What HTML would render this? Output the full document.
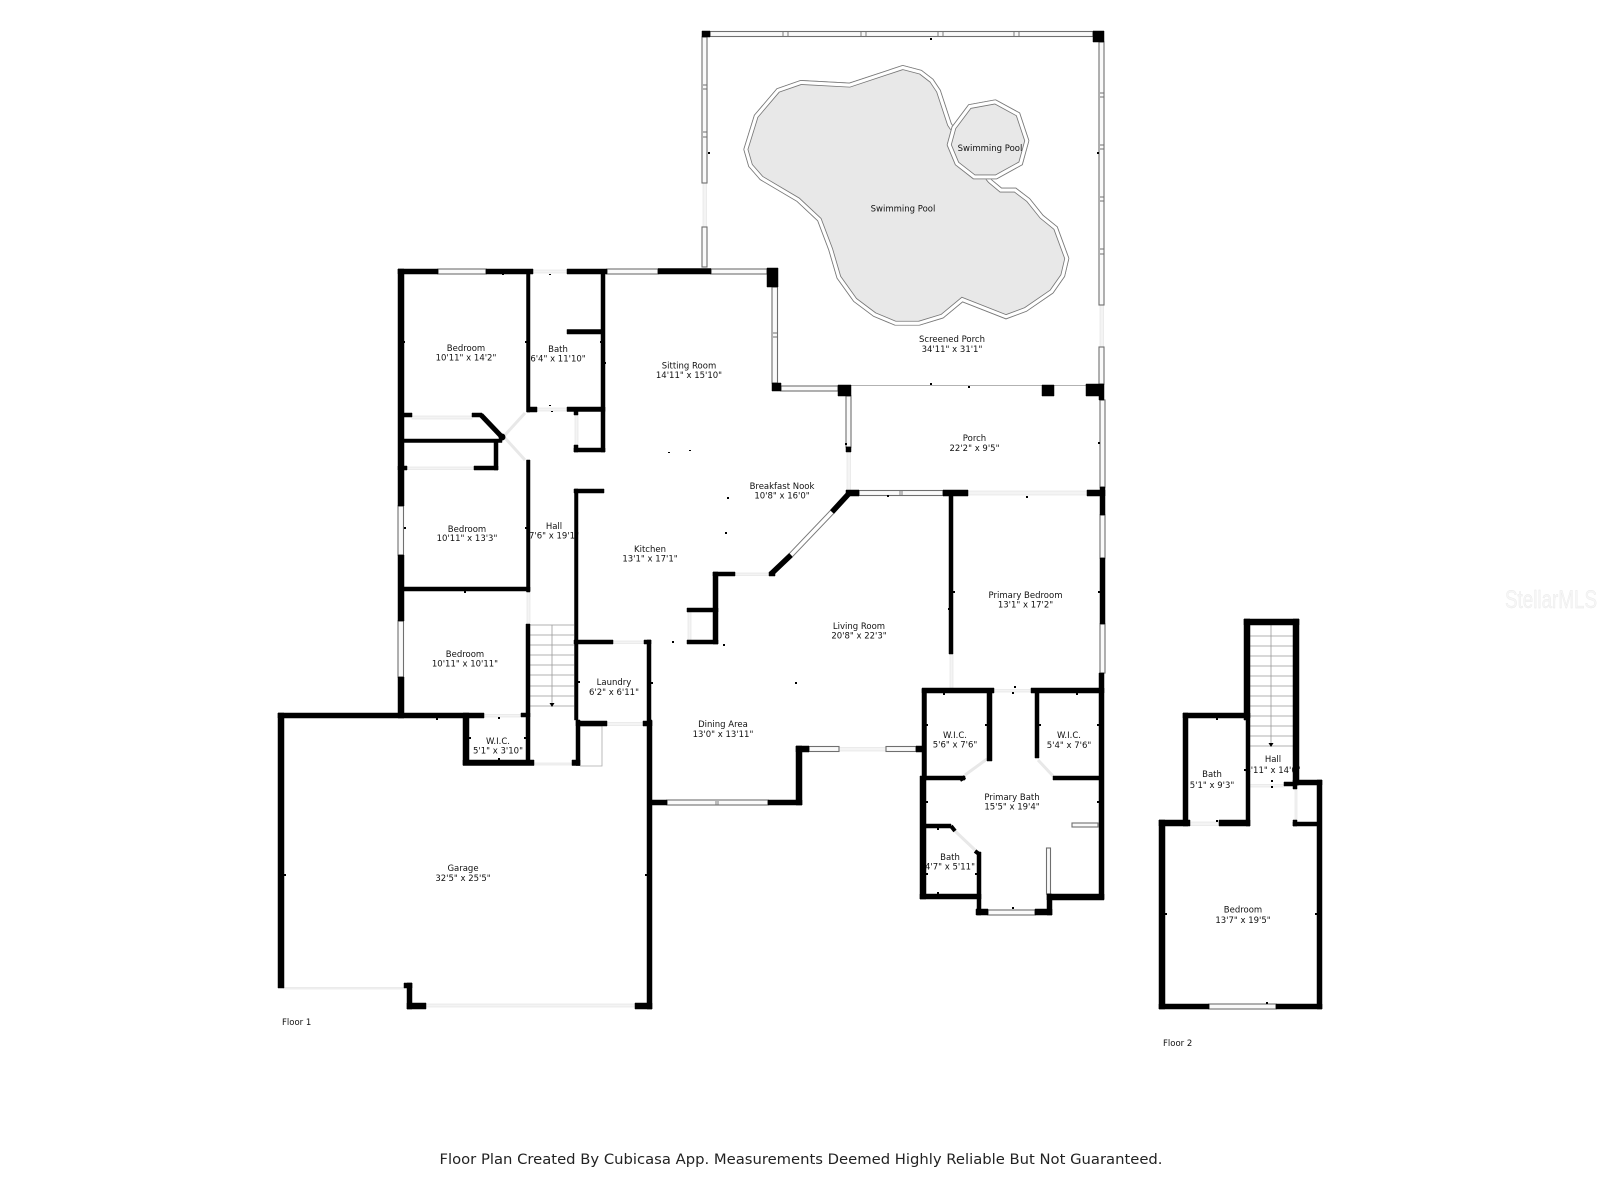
<!DOCTYPE html>
<html><head><meta charset="utf-8"><title>Floor Plan</title>
<style>
html,body{margin:0;padding:0;background:#fff}
svg{display:block}
text{font-family:"DejaVu Sans","Liberation Sans",sans-serif;font-size:8.5px;fill:#111;text-anchor:middle}
.win{fill:#fafafa;stroke:#6f6f6f;stroke-width:1.1}
.door{fill:#f4f4f4;stroke:#e2e2e2;stroke-width:.6}
.fl{text-anchor:start}
</style></head><body>
<svg width="1600" height="1200" viewBox="0 0 1600 1200" xmlns="http://www.w3.org/2000/svg">
<rect width="1600" height="1200" fill="#fff"/>
<defs>
<clipPath id="c1"><polygon id="p1" points="668,165 725,180 760,207 782,240 815,340 880,440 935,508 965,533 1008,533 1050,565 1090,615 1133,650 1168,745 1155,800 1120,850 1040,905 978,928 848,877 790,925 718,947 645,947 580,920 520,875 470,805 445,720 412,633 350,575 240,510 205,470 190,418 222,315 290,235 362,210 508,218"/></clipPath>
<clipPath id="c2"><polygon id="p2" points="865,283 947,268 1020,308 1048,392 1028,465 950,508 880,508 825,465 800,405 815,350"/></clipPath>
</defs>
<g transform="translate(680 10) scale(.33333)">
<g clip-path="url(#c1)">
<use href="#p1" fill="#e8e8e8" stroke="#777" stroke-width="29"/>
<use href="#p1" fill="none" stroke="#fff" stroke-width="24"/>
<use href="#p1" fill="none" stroke="#777" stroke-width="5"/>
</g>
<g clip-path="url(#c2)">
<use href="#p2" fill="#e8e8e8" stroke="#777" stroke-width="29"/>
<use href="#p2" fill="none" stroke="#fff" stroke-width="24"/>
<use href="#p2" fill="none" stroke="#777" stroke-width="5"/>
</g>
</g>

<!-- labels -->
<text x="903" y="211.500">Swimming Pool</text>
<text x="990" y="151">Swimming Pool</text>
<text x="952" y="342">Screened Porch</text><text x="952" y="352">34'11" x 31'1"</text>
<text x="466" y="351">Bedroom</text><text x="466" y="360.500">10'11" x 14'2"</text>
<text x="558" y="352">Bath</text><text x="558" y="361.500">6'4" x 11'10"</text>
<text x="689" y="368.500">Sitting Room</text><text x="689" y="378">14'11" x 15'10"</text>
<text x="974.500" y="441">Porch</text><text x="974.500" y="451">22'2" x 9'5"</text>
<text x="467" y="532">Bedroom</text><text x="467" y="541">10'11" x 13'3"</text>
<text x="554" y="529">Hall</text><text x="554" y="538.500">7'6" x 19'1"</text>
<text x="782" y="489">Breakfast Nook</text><text x="782" y="498.500">10'8" x 16'0"</text>
<text x="650" y="552">Kitchen</text><text x="650" y="561.500">13'1" x 17'1"</text>
<text x="1025.500" y="598">Primary Bedroom</text><text x="1025.500" y="607.500">13'1" x 17'2"</text>
<text x="859" y="629">Living Room</text><text x="859" y="638.500">20'8" x 22'3"</text>
<text x="465" y="657">Bedroom</text><text x="465" y="666.500">10'11" x 10'11"</text>
<text x="614" y="685">Laundry</text><text x="614" y="695">6'2" x 6'11"</text>
<text x="723" y="727">Dining Area</text><text x="723" y="737">13'0" x 13'11"</text>
<text x="498" y="744">W.I.C.</text><text x="498" y="753.500">5'1" x 3'10"</text>
<text x="955" y="738">W.I.C.</text><text x="955" y="747.500">5'6" x 7'6"</text>
<text x="1069" y="738">W.I.C.</text><text x="1069" y="748">5'4" x 7'6"</text>
<text x="1012" y="800">Primary Bath</text><text x="1012" y="809.500">15'5" x 19'4"</text>
<text x="950" y="860">Bath</text><text x="950" y="869.500">4'7" x 5'11"</text>
<text x="463" y="871">Garage</text><text x="463" y="881">32'5" x 25'5"</text>
<text x="1273" y="762">Hall</text><text x="1273" y="773">4'11" x 14'0"</text>
<text x="1212" y="777">Bath</text><text x="1212" y="788">5'1" x 9'3"</text>
<text x="1243" y="912.500">Bedroom</text><text x="1243" y="923">13'7" x 19'5"</text>
<text class="fl" x="282" y="1025">Floor 1</text>
<text class="fl" x="1163" y="1046">Floor 2</text>
<text x="801" y="1164" style="font-size:14px;fill:#222" textLength="723" lengthAdjust="spacingAndGlyphs">Floor Plan Created By Cubicasa App. Measurements Deemed Highly Reliable But Not Guaranteed.</text>
<text x="1551" y="608" style="font-family:'Liberation Sans',sans-serif;font-size:25px;fill:#f6f6f6;stroke:#e8e8e8;stroke-width:.4" textLength="92" lengthAdjust="spacingAndGlyphs">StellarMLS</text>

<!-- stairs -->
<g stroke="#999" stroke-width=".8" fill="none">
<path d="M530 625H574M530 635H574M530 645H574M530 655H574M530 665H574M530 675H574M530 686H574M530 696H574M530 706H574M552 625V703"/>
<path d="M1250 636H1293M1250 646H1293M1250 656H1293M1250 666H1293M1250 676H1293M1250 686H1293M1250 696H1293M1250 706H1293M1250 716H1293M1250 726H1293M1250 736H1293M1250 746H1293M1271 625V743"/>
<path d="M580 726H602V766H580" stroke="#aaa"/>
<path d="M851 385.500H1086" stroke="#999"/>
</g>
<path d="M549.500 703H554.500L552 707ZM1268.500 743H1273.500L1271 747Z" fill="#000"/>

<!-- doors -->
<g class="door">
<rect x="533" y="270" width="34" height="3"/><rect x="537" y="408" width="30" height="3"/><rect x="575" y="415" width="3" height="30"/>
<rect x="412" y="416" width="60" height="3"/><rect x="407" y="467" width="67" height="2.500"/>
<rect x="527" y="592" width="3" height="31"/><rect x="613" y="641" width="31" height="2.500"/><rect x="607" y="722.500" width="36" height="3"/>
<rect x="484" y="714.500" width="37" height="2.500"/><rect x="534" y="763" width="38" height="2"/><rect x="284" y="987.500" width="120" height="1.500"/>
<rect x="426" y="1004" width="209" height="3"/><rect x="839" y="747.500" width="47" height="3.500"/><rect x="994" y="689.500" width="37" height="2.500"/>
<rect x="968" y="491" width="119" height="4"/><rect x="847" y="452" width="3.500" height="38"/><rect x="950" y="654" width="3" height="34"/>
<rect x="703" y="183" width="3.500" height="44"/><rect x="1100" y="305" width="3.500" height="42"/><rect x="688" y="612" width="3" height="28"/>
<rect x="1190" y="822" width="29" height="3.500"/><rect x="1250" y="784.500" width="34" height="2.500"/><rect x="1295" y="789" width="2" height="31"/>
<rect x="735" y="573" width="36" height="2.500"/>
</g>
<g stroke="#e8e8e8" stroke-width="3" fill="none">
<path d="M505 435L525 413M505 438L525 460M965 775L987 759M1038 760L1053 776M955 831L975 850"/>
</g>

<!-- windows -->
<g class="win">
<rect x="710" y="31.500" width="383" height="5"/><rect x="702" y="37" width="5" height="146"/><rect x="702" y="227" width="5" height="40"/>
<rect x="1099" y="42" width="5" height="263"/><rect x="1099" y="347" width="5" height="37"/>
<rect x="772" y="287" width="5.500" height="96"/><rect x="781" y="386" width="57" height="5"/><rect x="846" y="396" width="5" height="51"/>
<rect x="859" y="490.500" width="84" height="5"/><rect x="1100" y="400" width="5" height="87"/><rect x="1100" y="515" width="5" height="43"/><rect x="1100" y="624" width="5" height="49"/>
<rect x="438" y="269" width="48" height="5"/><rect x="607" y="269" width="51" height="5"/><rect x="711" y="269" width="56" height="5"/>
<rect x="398" y="506" width="5.500" height="49"/><rect x="398" y="621" width="5.500" height="56"/>
<rect x="667" y="800" width="101" height="5"/><rect x="809" y="746.500" width="30" height="5"/><rect x="886" y="746.500" width="30" height="5"/>
<rect x="988" y="910" width="47" height="5"/><rect x="1209" y="1004" width="67" height="5"/>
<rect x="1046.500" y="848" width="4" height="46"/><rect x="1072" y="823" width="26" height="4"/>
</g>
<path d="M783 32V36M788 32V36M861 32V36M866 32V36M938 32V36M943 32V36M1014 32V36M1019 32V36M703 85H707M703 89H707M703 132H707M703 137H707M1100 93H1104M1100 97H1104M1100 145H1104M1100 149H1104M1100 197H1104M1100 201H1104M1100 249H1104M1100 254H1104M773 333H777M773 337H777M900 491V495M902 491V495M716 801V805M718 801V805" stroke="#6f6f6f" stroke-width=".9" fill="none"/>
<path d="M832 512L791 555" stroke="#777" stroke-width="5.500" fill="none"/>
<path d="M832 512L791 555" stroke="#fff" stroke-width="3.500" fill="none"/>

<!-- walls -->
<path fill="#000" stroke="#000" stroke-width=".5" d="
M398 269H438V274H398ZM486 269H533V274H486ZM567 269H607V274H567ZM658 268.500H711V274H658ZM767 268H778V287H767Z
M398 269H404V506H398ZM398 555H404V621H398ZM398 677H404V718H398Z
M526.500 270H530V412H526.500ZM601 270H605V452H601ZM567 329.500H601V334H567ZM527 407H537V412H527ZM567 407H605V411.500H567ZM574 411H578V415H574ZM574 445H578V452H574ZM574 448H605V452H574Z
M404 413H412V417H404ZM472 413H482V417H472ZM404 439H502V442.500H404ZM494 442H498V470H494ZM398 466H407V470H398ZM474 466H498V470H474Z
M526.500 460H530V592H526.500ZM404 587H530V591H404ZM526 624H530V760H526Z
M574.500 489H578V720H574.500ZM574 489H604V493H574ZM576 720H580V765.500H576Z
M574 640H613V644H574ZM644 640H651V644H644ZM647 640H651V720H647ZM576 721H607V726H576ZM643 721H652V726H643ZM647 720H652V1009H647Z
M278 713H284V988H278ZM278 713H484V718H278ZM521 713H530V717H521ZM463 713H469V765H463ZM463 760H534V765.500H463ZM572 760H580V765.500H572Z
M404 983H412V988H404ZM407 983H412V1009H407ZM407 1003H426V1009H407ZM635 1003H652V1009H635Z
M652 800H667V805H652ZM768 800H802V805H768ZM796 746H802V805H796ZM796 746H809V752H796ZM916 746H926V752H916Z
M922 689H926.500V780H922ZM920 776H926V899H920ZM922 688H994V693H922ZM1031 688H1104V693H1031ZM987 693H992V761H987ZM1035 693H1039V758H1035ZM926 776H965V780H926ZM1053 776H1102V780H1053ZM1099 673H1104V899H1099Z
M926 824H951V828H926ZM977 852H981V915H977ZM920 894H981V899H920ZM976 909H988V915H976ZM1035 909H1052V915H1035ZM1047 894H1052V915H1047ZM1047 894H1104V900H1047Z
M949 496H953V654H949ZM943 490H968V496H943ZM846 490H859V496H846ZM1087 490H1105V496H1087ZM1100 487H1105V515H1100ZM1100 558H1105V624H1100Z
M702 31H710V37H702ZM1093 31H1104V42H1093ZM772 383H781V391H772ZM838 385H851V396H838ZM846 447H851V452H846ZM1042 385H1054V396H1042ZM1086 384H1104V396H1086ZM1099 396H1104V400H1099Z
M713 572H735V576H713ZM713 572H718V644H713ZM687 608H718V612H687ZM687 640H718V644H687ZM769 572H775V576H769Z
M1244 619H1299V625H1244ZM1244 619H1250V720H1244ZM1246 720H1250V826H1246ZM1293 619H1299V785H1293ZM1183 713H1250V718H1183ZM1183 713H1188V826H1183Z
M1159 820H1190V826H1159ZM1219 820H1250V826H1219ZM1159 820H1165V1009H1159ZM1159 1004H1209V1009H1159ZM1276 1004H1322V1009H1276ZM1317 780H1322V1009H1317ZM1293 780H1322V785H1293ZM1284 782H1297V786H1284ZM1293 785H1297V789H1293ZM1293 822H1317V826H1293ZM1293 820H1297V826H1293Z"/>
<g stroke="#000" fill="none">
<path d="M848.500 494L832 512M791 555L771 574" stroke-width="5.500"/>
<path d="M481 415L501 436" stroke-width="5"/>
<path d="M965 777L960 780M951 826L955 831M975 851L979 854" stroke-width="4"/>
</g>
<circle cx="502" cy="437" r="3.500" fill="#000"/>

<!-- tick marks -->
<path fill="#000" d="M502 273h2v2h-2zM403 341h2v2h-2zM525 341h3v2h-3zM600 341h2v2h-2zM604 362h2v2h-2zM549 274h2v1h-2zM549 405h2v1h-2zM551 411h2v1h-2zM668 452h2v1h-2zM689 450h2v1h-2zM727 497h2v2h-2zM725 532h2v2h-2zM672 641h2v2h-2zM723 644h2v2h-2zM795 682h2v2h-2zM651 682h2v2h-2zM404 527h2v2h-2zM525 527h2v2h-2zM464 591h2v2h-2zM501 587h2v2h-2zM845 443h2v2h-2zM1098 442h2v2h-2zM930 38h2v2h-2zM708 152h2v2h-2zM1097 152h2v2h-2zM930 383h2v2h-2zM968 386h2v2h-2zM887 495h2v2h-2zM1026 496h2v2h-2zM953 591h2v2h-2zM948 608h2v2h-2zM1098 591h2v2h-2zM1014 686h2v2h-2zM1012 692h2v2h-2zM943 693h2v2h-2zM1076 693h2v2h-2zM926 724h2v2h-2zM985 724h2v2h-2zM1039 724h2v2h-2zM1097 724h2v2h-2zM926 801h2v2h-2zM1097 801h2v2h-2zM926 873h2v2h-2zM975 873h2v2h-2zM937 828h2v2h-2zM937 892h2v2h-2zM1012 907h2v2h-2zM284 874h2v2h-2zM645 874h2v2h-2zM436 718h2v2h-2zM498 717h2v2h-2zM469 737h2v2h-2zM524 737h2v2h-2zM498 758h2v2h-2zM578 681h2v2h-2zM1266 1002h2v2h-2zM1165 913h2v2h-2zM1315 913h2v2h-2zM1216 718h2v2h-2zM1186 769h2v2h-2zM1244 769h2v2h-2zM1271 780h2v2h-2zM1271 786h2v2h-2zM1216 820h2v2h-2z"/>
</svg>
</body></html>
